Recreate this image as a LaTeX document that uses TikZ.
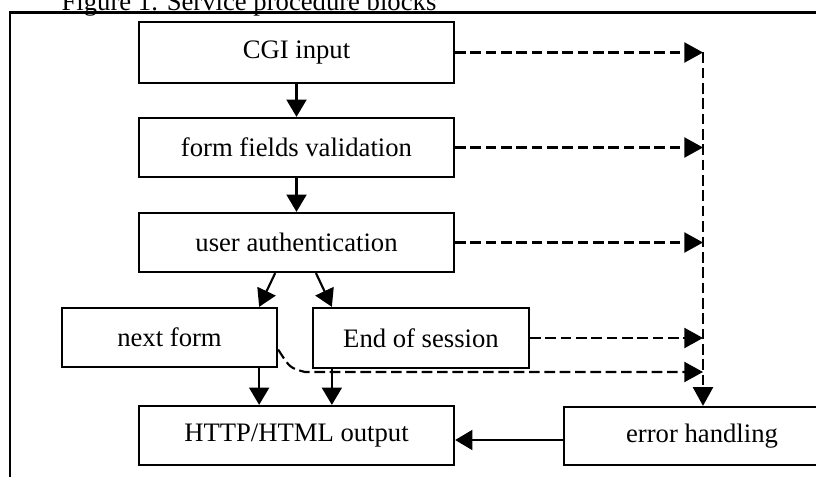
\documentclass[tikz,border=0pt]{standalone}
\usepackage{fontspec}
\setmainfont{Liberation Serif}
\usetikzlibrary{arrows.meta,calc}
\begin{document}
\begin{tikzpicture}[x=0.75pt,y=-0.75pt,
  box/.style={draw,line width=1.7pt,inner sep=0pt,font=\fontsize{20}{22}\selectfont},
  arr/.style={line width=1.6pt,-{Triangle[length=13pt,width=15pt]}},
  dasharr/.style={line width=1.6pt,dash pattern=on 8pt off 3.5pt,-{Triangle[length=14pt,width=15pt]}}]
\useasboundingbox (0,0) rectangle (816,477);
\clip (0,0) rectangle (816,477);
% frame and title
\draw[line width=1.7pt] (10,490) -- (10,12.5) -- (830,12.5);
\node[anchor=base,font=\fontsize{20}{22}\selectfont,inner sep=0pt] (title) at (249,10.5) {Figure 1. Service procedure blocks};
% boxes
\node[box,minimum width=236.25pt,minimum height=45.75pt] (cgi) at (296.5,52.5) {CGI input};
\node[box,minimum width=236.25pt,minimum height=44.25pt] (ffv) at (296.5,147.5) {form fields validation};
\node[box,minimum width=236.25pt,minimum height=44.25pt] (ua) at (296.5,242.5) {user authentication};
\node[box,minimum width=161.25pt,minimum height=44.25pt] (nf) at (169.5,337.5) {next form};
\node[box,minimum width=162pt,minimum height=45pt] (eos) at (421,338) {End of session};
\node[box,minimum width=236.25pt,minimum height=44.25pt] (http) at (296.5,435.5) {HTTP/HTML output};
\node[box,minimum width=207pt,minimum height=43.5pt] (err) at (702,436) {error handling};
% solid arrows
\draw[arr] (cgi) -- (ffv);
\draw[arr] (ffv) -- (ua);
\draw[arr] ([xshift=-16pt]ua.south) -- ([xshift=-14.25pt]nf.north east);
\draw[arr] ([xshift=14.6pt]ua.south) -- ([xshift=15pt]eos.north west);
\draw[arr] ([xshift=-14.25pt]nf.south east) -- ([xshift=-14.25pt]nf.south east |- http.north);
\draw[arr] ([xshift=15pt]eos.south west) -- ([xshift=15pt]eos.south west |- http.north);
\draw[arr] ([yshift=-3pt]err.west) -- ([yshift=-3pt]err.west -| http.east);
% dashed bus
\coordinate (bus) at (703,52.5);
\coordinate (nfturn) at (305,372);
\draw[dasharr] (cgi.east) -- (cgi.east -| bus);
\draw[dasharr] (ffv.east) -- (ffv.east -| bus);
\draw[dasharr] (ua.east) -- (ua.east -| bus);
\draw[dasharr] (eos.east) -- (eos.east -| bus);
\draw[dasharr] ([yshift=-9pt]nf.east) .. controls (290,368) .. (nfturn) -- (nfturn -| bus);
\draw[dasharr] (bus) -- (bus |- err.north);
\end{tikzpicture}
\end{document}
